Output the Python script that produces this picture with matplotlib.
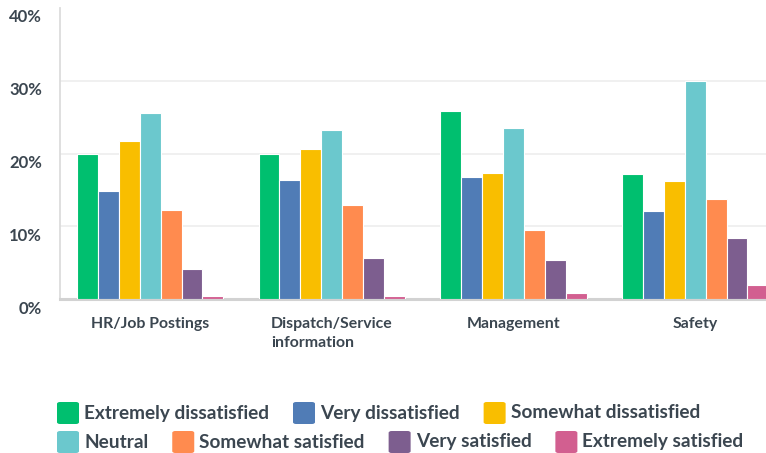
import numpy as np
import matplotlib.pyplot as plt
from matplotlib.patches import FancyBboxPatch
from matplotlib.transforms import ScaledTranslation

plt.rcParams['font.family'] = ['Lato', 'DejaVu Sans']

categories = ['HR/Job Postings', 'Dispatch/Service\ninformation', 'Management', 'Safety']
responses = ['Extremely dissatisfied', 'Very dissatisfied', 'Somewhat dissatisfied',
             'Neutral', 'Somewhat satisfied', 'Very satisfied', 'Extremely satisfied']
colors = ['#00bf6f', '#507cb6', '#f9be00', '#6bc8cd', '#ff8b4f', '#7d5e8f', '#d25f90']

# percent of respondents, one list per response level (HR, Dispatch, Management, Safety)
extremely_dissatisfied = [20.0, 20.0, 25.8, 17.2]
very_dissatisfied = [14.8, 16.3, 16.8, 12.1]
somewhat_dissatisfied = [21.7, 20.6, 17.3, 16.2]
neutral = [25.6, 23.2, 23.5, 29.9]
somewhat_satisfied = [12.3, 12.9, 9.5, 13.8]
very_satisfied = [4.1, 5.6, 5.4, 8.4]
extremely_satisfied = [0.45, 0.45, 0.85, 1.9]

series = [extremely_dissatisfied, very_dissatisfied, somewhat_dissatisfied, neutral,
          somewhat_satisfied, very_satisfied, extremely_satisfied]
yticks = [0, 10, 20, 30, 40]

text_color = '#3b4650'

fig = plt.figure(figsize=(7.66, 4.53), dpi=100)
ax = fig.add_axes([60 / 766, 1 - 299.3 / 453, 1 - 60 / 766, (299.3 - 7.7) / 453])

x = np.arange(len(categories))
w = 0.1152
for i, (vals, col) in enumerate(zip(series, colors)):
    ax.bar(x + (i - 3) * w, vals, width=w, color=col, edgecolor='white', linewidth=0.8, zorder=3)

ax.set_xlim(-0.496, 3.39)
ax.set_ylim(0, 40)
ax.set_yticks(yticks)
ax.set_yticklabels([f'{t}%' for t in yticks])
ax.set_xticks(x)
ax.set_xticklabels(categories, multialignment='left', linespacing=1.45)

for gy in yticks[1:-1]:
    ax.axhline(gy, color='#eeeeee', lw=1.2, zorder=1)

for s in ['top', 'right']:
    ax.spines[s].set_visible(False)
ax.spines['left'].set_color('#dcdcdc')
ax.spines['left'].set_linewidth(1.3)
ax.spines['bottom'].set_color('#d2d2d2')
ax.spines['bottom'].set_linewidth(2.2)

ax.tick_params(axis='both', length=0)
ax.tick_params(axis='y', pad=13, labelsize=12, labelcolor=text_color)
ax.tick_params(axis='x', pad=13, labelsize=11.4, labelcolor=text_color)
for lbl in ax.get_yticklabels():
    lbl.set_fontweight('bold')
    lbl.set_transform(lbl.get_transform() + ScaledTranslation(0, -8 / 100, fig.dpi_scale_trans))
for lbl in ax.get_xticklabels():
    lbl.set_fontweight('bold')
    lbl.set_verticalalignment('top')

# legend drawn as two flowing rows of swatches
rows = [[0, 1, 2], [3, 4, 5, 6]]
row_y = [413, 442]
fig.canvas.draw()
renderer = fig.canvas.get_renderer()
W, H = 766, 453
for row, yc in zip(rows, row_y):
    xpos = 57
    for idx in row:
        sw = FancyBboxPatch((xpos / W, (H - yc - 11) / H), 22 / W, 22 / H,
                            boxstyle='round,pad=0,rounding_size=0.004',
                            transform=fig.transFigure, facecolor=colors[idx],
                            edgecolor='none')
        fig.patches.append(sw)
        t = fig.text((xpos + 27) / W, (H - yc) / H, responses[idx], fontsize=13.7,
                     fontweight='bold', color=text_color, va='center', ha='left')
        bb = t.get_window_extent(renderer)
        xpos = bb.x1 + 24

fig.savefig('out.png', dpi=100)
